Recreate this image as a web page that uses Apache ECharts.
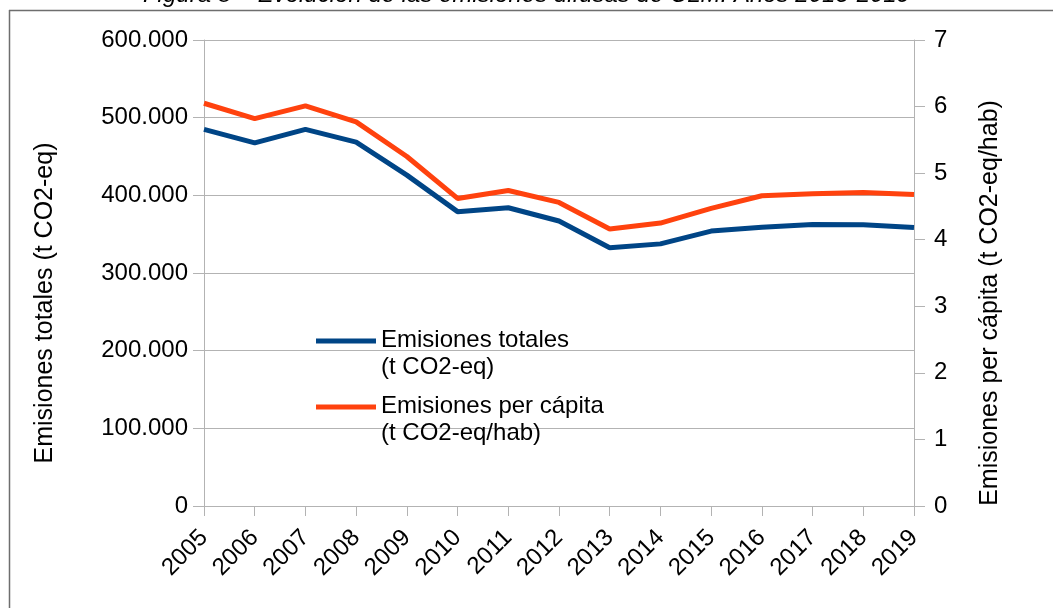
<!DOCTYPE html>
<html>
<head>
<meta charset="utf-8">
<script src="https://cdn.jsdelivr.net/npm/echarts@6/dist/echarts.min.js"></script>
<style>
html,body{margin:0;padding:0;background:#fff;}
#c{width:1053px;height:608px;}
</style>
</head>
<body>
<div id="c"></div>
<script>
const years = ['2005','2006','2007','2008','2009','2010','2011','2012','2013','2014','2015','2016','2017','2018','2019'];
const emisionesTotales = [485000, 467500, 485000, 468500, 426000, 379000, 384000, 367000, 332500, 337500, 354000, 359000, 362500, 362000, 358500];
const emisionesPerCapita = [6.05, 5.82, 6.01, 5.77, 5.25, 4.62, 4.74, 4.56, 4.16, 4.25, 4.47, 4.66, 4.69, 4.71, 4.68];
const leftTicks = [0, 100000, 200000, 300000, 400000, 500000, 600000];
const rightTicks = [0, 1, 2, 3, 4, 5, 6, 7];
const nameTotales = 'Emisiones totales\n(t CO2-eq)';
const namePerCapita = 'Emisiones per cápita\n(t CO2-eq/hab)';
const titleText = 'Figura 8 – Evolución de las emisiones difusas de CLM. Años 2013-2019';

const FONT = '"Liberation Sans", Arial, sans-serif';
const FS = 24;
const fmt = v => String(v).replace(/\B(?=(\d{3})+(?!\d))/g, '.');
const chart = echarts.init(document.getElementById('c'), null, {renderer: 'canvas'});
const iconPath = 'path://M0,0L0.01,0M0,11.5L60,11.5L60,16.5L0,16.5ZM0,54L0.01,54';

chart.setOption({
  animation: false,
  backgroundColor: '#fff',
  title: {
    text: titleText,
    left: 'center',
    top: -22,
    textStyle: {fontFamily: FONT, fontSize: 24, fontStyle: 'italic', fontWeight: 'normal', color: '#000'}
  },
  graphic: [
    {type: 'line', shape: {x1: 9, y1: 10.5, x2: 1053, y2: 10.5}, style: {stroke: '#6e6e6e', lineWidth: 1.5}, silent: true},
    {type: 'line', shape: {x1: 9.5, y1: 10, x2: 9.5, y2: 608}, style: {stroke: '#6e6e6e', lineWidth: 1.5}, silent: true}
  ],
  grid: {left: 204, right: 139, top: 40, bottom: 102, containLabel: false},
  legend: {
    orient: 'vertical',
    left: 316,
    top: 327,
    padding: 0,
    itemGap: 12,
    itemWidth: 60,
    itemHeight: 54,
    icon: iconPath,
    textStyle: {fontFamily: FONT, fontSize: FS, lineHeight: 27, color: '#000'},
    data: [nameTotales, namePerCapita]
  },
  xAxis: {
    type: 'category',
    data: years,
    boundaryGap: false,
    axisLine: {lineStyle: {color: '#b3b3b3', width: 1}},
    axisTick: {show: true, length: 10, lineStyle: {color: '#b3b3b3'}, alignWithLabel: true},
    axisLabel: {rotate: 45, margin: 28, fontFamily: FONT, fontSize: FS, color: '#000', interval: 0},
    splitLine: {show: false}
  },
  yAxis: [
    {
      type: 'value',
      min: leftTicks[0],
      max: leftTicks[leftTicks.length - 1],
      interval: leftTicks[1] - leftTicks[0],
      position: 'left',
      name: 'Emisiones totales (t CO2-eq)',
      nameLocation: 'middle',
      nameRotate: 90,
      nameGap: 146,
      nameTextStyle: {fontFamily: FONT, fontSize: 25, color: '#000', padding: [0, 60, 0, 0]},
      axisLine: {show: true, lineStyle: {color: '#b3b3b3', width: 1}},
      axisTick: {show: true, inside: false, length: 11, lineStyle: {color: '#b3b3b3'}},
      axisLabel: {margin: 16, fontFamily: FONT, fontSize: FS, color: '#000', formatter: fmt},
      splitLine: {show: true, lineStyle: {color: '#b3b3b3', width: 1}}
    },
    {
      type: 'value',
      min: rightTicks[0],
      max: rightTicks[rightTicks.length - 1],
      interval: rightTicks[1] - rightTicks[0],
      position: 'right',
      name: 'Emisiones per cápita (t CO2-eq/hab)',
      nameLocation: 'middle',
      nameRotate: 90,
      nameGap: 64,
      nameTextStyle: {fontFamily: FONT, fontSize: 25, color: '#000', padding: [0, 60, 0, 0]},
      axisLine: {show: true, lineStyle: {color: '#b3b3b3', width: 1}},
      axisTick: {show: true, inside: false, length: 11, lineStyle: {color: '#b3b3b3'}},
      axisLabel: {margin: 20, fontFamily: FONT, fontSize: FS, color: '#000'},
      splitLine: {show: false}
    }
  ],
  series: [
    {
      name: nameTotales,
      type: 'line',
      yAxisIndex: 0,
      data: emisionesTotales,
      symbol: 'none',
      color: '#004586',
      lineStyle: {color: '#004586', width: 5},
      z: 3
    },
    {
      name: namePerCapita,
      type: 'line',
      yAxisIndex: 1,
      data: emisionesPerCapita,
      symbol: 'none',
      color: '#ff420e',
      lineStyle: {color: '#ff420e', width: 5},
      z: 3
    }
  ]
});
</script>
</body>
</html>
